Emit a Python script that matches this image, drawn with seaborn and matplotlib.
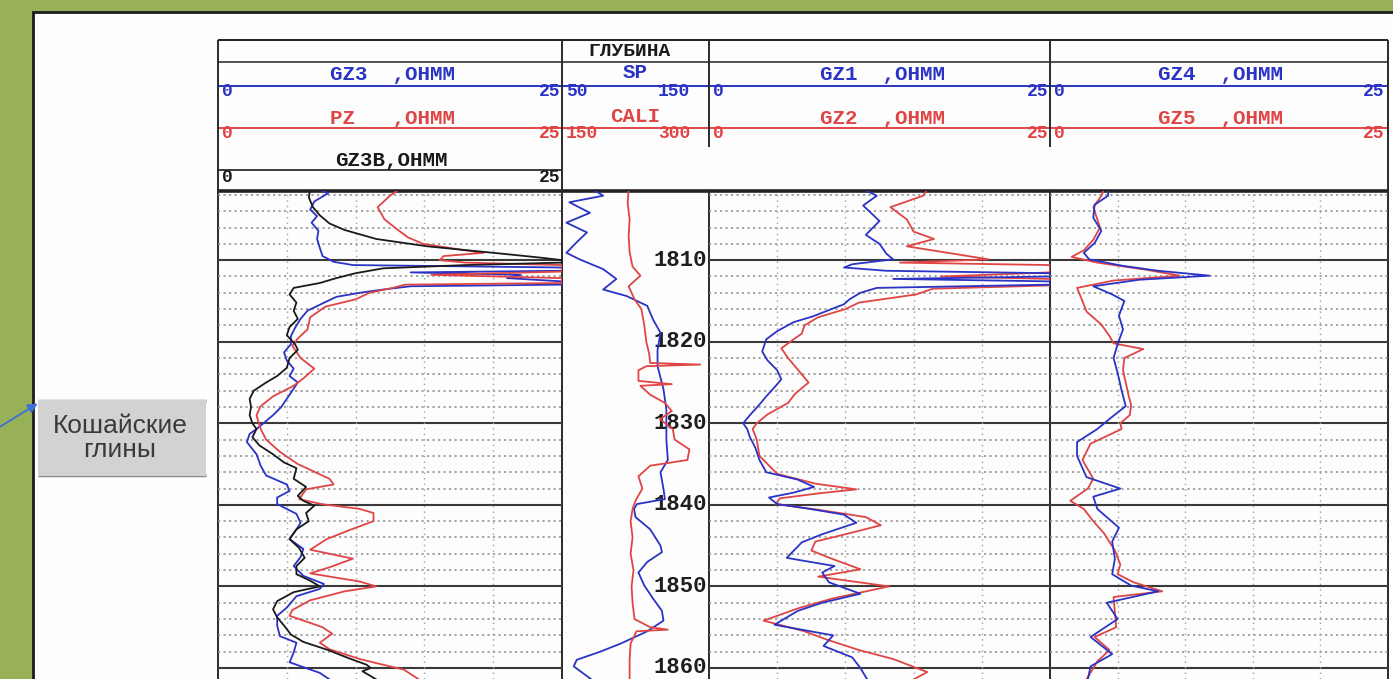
import seaborn as sns
import matplotlib.pyplot as plt
import pandas as pd
from matplotlib.patches import Rectangle

W, H = 1393, 679

# depth (m), value pairs
gz3 = [(1801.3, 7.3), (1801.8, 8.0), (1802.8, 7.0), (1803.8, 6.7), (1804.6, 7.2), (1805.4, 6.8), (1806.4, 7.3),
       (1807.4, 7.2), (1808.5, 7.4), (1809.5, 7.6), (1810.2, 8.4), (1810.6, 9.8), (1810.9, 25), (1811.3, 25),
       (1811.5, 14), (1811.8, 22), (1812.2, 21), (1812.6, 25), (1813.0, 25), (1813.2, 14), (1813.6, 12),
       (1814.0, 10.3), (1814.5, 8.6), (1815.3, 7.6), (1816.2, 6.5), (1817.2, 6.0), (1818.3, 5.6), (1819.3, 5.3),
       (1820.3, 5.3), (1821.3, 4.8), (1822.3, 5.0), (1823.3, 5.5), (1824.2, 5.2), (1825.0, 5.8), (1826.0, 5.4),
       (1827.0, 5.0), (1828.0, 4.6), (1829.0, 4.0), (1830.0, 3.3), (1830.7, 2.8), (1831.3, 2.3), (1832.3, 2.1),
       (1833.8, 2.8), (1835.2, 3.1), (1836.4, 3.5), (1837.5, 5.0), (1838.3, 5.2), (1839.1, 4.3), (1839.9, 4.3),
       (1841.1, 5.7), (1842.2, 6.0), (1843.0, 5.7), (1844.2, 5.2), (1845.4, 6.2), (1846.4, 6.0), (1847.5, 5.5),
       (1848.7, 6.2), (1849.7, 7.7), (1850.3, 7.4), (1851.2, 5.7), (1852.6, 5.0), (1853.6, 4.3), (1854.8, 4.3),
       (1856.1, 4.5), (1856.9, 5.7), (1858.1, 5.5), (1859.3, 5.2), (1860.6, 7.4), (1861.4, 8.1)]

gz3b = [(1801.3, 6.7), (1802.3, 6.6), (1803.5, 6.9), (1804.5, 7.4), (1805.5, 8.1), (1806.3, 9.2), (1807.4, 11.5),
        (1808.3, 15.2), (1808.9, 18.8), (1809.3, 21.2), (1809.7, 23.5), (1810.0, 25), (1810.3, 25), (1810.6, 18),
        (1811.0, 12), (1811.6, 10.0), (1812.2, 8.6), (1812.8, 7.4), (1813.4, 5.5), (1814.2, 5.2), (1815.2, 5.7),
        (1816.2, 5.5), (1817.2, 5.8), (1818.2, 5.2), (1819.2, 5.0), (1820.3, 5.6), (1821.0, 5.8), (1822.0, 5.2),
        (1823.2, 5.0), (1824.2, 4.3), (1825.0, 3.5), (1826.0, 2.6), (1827.0, 2.3), (1828.0, 2.4), (1829.0, 2.3),
        (1830.0, 2.5), (1830.7, 2.8), (1831.7, 2.5), (1832.7, 3.0), (1833.8, 4.0), (1834.8, 4.8), (1835.5, 5.7),
        (1836.8, 5.5), (1837.8, 6.4), (1838.9, 5.8), (1839.5, 6.2), (1840.1, 7.0), (1841.0, 6.4), (1842.0, 6.6),
        (1843.0, 5.7), (1844.2, 5.2), (1845.3, 5.9), (1846.5, 6.3), (1847.5, 5.7), (1848.5, 5.7), (1849.3, 6.7),
        (1850.0, 7.4), (1850.7, 5.5), (1851.8, 4.3), (1852.8, 4.0), (1853.8, 4.3), (1854.8, 4.8), (1855.9, 5.3),
        (1856.8, 6.2), (1857.8, 8.0), (1858.8, 9.5), (1859.6, 10.8), (1860.0, 11.1), (1860.4, 10.5), (1861.4, 11.5)]

pz = [(1801.3, 13.2), (1802.1, 12.5), (1803.5, 11.6), (1805.0, 12.1), (1806.2, 13.0), (1807.2, 13.8), (1808.0, 14.9),
      (1808.7, 17.6), (1809.1, 19.3), (1809.5, 16.4), (1810.0, 16.1), (1810.3, 18), (1810.6, 25), (1811.4, 25),
      (1811.8, 15.5), (1812.2, 25), (1812.8, 25), (1813.0, 13.6), (1813.4, 12.7), (1814.0, 11.0), (1814.8, 10.0),
      (1815.7, 7.8), (1817.0, 6.7), (1818.5, 6.5), (1819.6, 5.8), (1820.5, 5.4), (1822.0, 6.0), (1823.3, 7.0),
      (1824.5, 6.2), (1825.4, 5.5), (1826.7, 4.0), (1827.9, 3.1), (1829.0, 2.8), (1830.2, 3.0), (1830.7, 3.1),
      (1832.0, 3.5), (1833.5, 4.5), (1835.0, 5.8), (1836.8, 8.1), (1837.5, 8.4), (1838.1, 6.4), (1839.3, 5.9),
      (1839.9, 7.5), (1840.5, 10.3), (1841.0, 11.3), (1842.0, 11.3), (1843.0, 9.7), (1844.2, 7.9), (1845.5, 6.7),
      (1846.6, 9.8), (1847.6, 8.2), (1848.4, 6.7), (1849.4, 10.3), (1850.0, 11.5), (1850.6, 9.2), (1851.7, 6.7),
      (1852.9, 5.4), (1853.6, 5.2), (1855.0, 7.6), (1855.8, 8.3), (1856.9, 7.4), (1857.7, 8.1), (1858.9, 10.3),
      (1859.4, 11.5), (1860.2, 13.5), (1861.4, 14.6)]

sp = [(1801.3, 71), (1802.1, 78), (1802.9, 55), (1804.2, 69), (1805.4, 53), (1806.6, 67), (1807.8, 60), (1809.1, 53),
      (1809.9, 62), (1811.1, 78), (1812.3, 87), (1813.6, 78), (1814.4, 94), (1815.6, 108), (1817.3, 112),
      (1818.9, 117), (1821.0, 115), (1823.0, 115), (1825.8, 119), (1828.3, 121), (1830.7, 121), (1832.0, 121),
      (1834.5, 122), (1836.0, 117), (1838.0, 119), (1839.3, 120), (1839.9, 101), (1840.5, 99), (1841.5, 100),
      (1843.0, 110), (1845.0, 117), (1845.8, 118), (1847.0, 108), (1848.3, 102), (1849.9, 106), (1851.5, 112),
      (1853.0, 118), (1854.2, 119), (1855.5, 108), (1857.0, 90), (1858.0, 76), (1859.0, 60), (1859.8, 58),
      (1861.4, 70)]

cali = [(1801.3, 218), (1803.0, 217), (1805.0, 219), (1807.0, 218), (1809.0, 219), (1810.8, 222), (1811.9, 230),
        (1813.2, 218), (1814.8, 224), (1816.0, 231), (1818.0, 234), (1820.0, 236), (1821.5, 239), (1822.6, 240),
        (1822.8, 291), (1823.0, 236), (1823.5, 228), (1824.8, 228), (1825.2, 262), (1825.4, 230), (1826.5, 240),
        (1827.5, 255), (1828.5, 262), (1829.5, 250), (1830.7, 263), (1832.0, 265), (1833.2, 280), (1834.5, 278),
        (1835.2, 240), (1836.5, 228), (1838.0, 232), (1839.5, 225), (1840.5, 222), (1842.0, 220), (1844.0, 222),
        (1846.0, 220), (1848.0, 223), (1850.0, 221), (1852.0, 222), (1854.0, 224), (1855.0, 240), (1855.3, 258),
        (1855.5, 226), (1857.0, 220), (1859.0, 219), (1861.4, 219)]

gz1 = [(1801.3, 11.3), (1802.1, 12.3), (1803.3, 11.3), (1805.2, 12.5), (1806.9, 11.5), (1808.0, 12.5), (1809.2, 13.0),
       (1809.9, 13.5), (1810.5, 10.5), (1810.9, 9.9), (1811.3, 13.0), (1811.6, 25), (1812.0, 25), (1812.3, 13.5),
       (1812.6, 25), (1813.0, 25), (1813.4, 12.3), (1814.0, 11.1), (1814.8, 10.3), (1815.4, 9.9), (1816.9, 7.6),
       (1817.6, 6.2), (1818.7, 5.0), (1819.7, 4.2), (1821.2, 3.9), (1822.3, 4.3), (1823.5, 5.0), (1824.6, 5.3),
       (1825.4, 4.9), (1826.7, 4.2), (1827.7, 3.7), (1829.0, 3.0), (1830.0, 2.5), (1830.7, 2.8), (1831.7, 3.0),
       (1833.0, 3.4), (1834.5, 3.7), (1836.0, 4.2), (1836.9, 6.5), (1837.8, 7.7), (1838.5, 6.2), (1839.1, 4.4),
       (1839.9, 5.0), (1840.5, 7.4), (1841.2, 9.9), (1842.2, 10.8), (1843.6, 8.3), (1844.6, 6.8), (1846.5, 5.7),
       (1847.5, 9.2), (1848.3, 8.3), (1849.5, 8.8), (1850.9, 11.1), (1852.0, 8.3), (1853.0, 6.5), (1854.7, 4.8),
       (1856.0, 9.1), (1857.3, 8.4), (1858.7, 10.5), (1860.0, 11.1), (1861.4, 11.6)]

gz2 = [(1801.3, 16.0), (1802.1, 15.7), (1803.5, 13.3), (1805.0, 14.5), (1806.5, 15.0), (1807.4, 16.5), (1808.3, 14.5),
       (1809.5, 19.0), (1809.9, 20.5), (1810.3, 14.0), (1810.6, 25), (1811.5, 25), (1812.0, 17.0), (1812.3, 25),
       (1813.1, 25), (1813.5, 16.4), (1814.2, 15.2), (1815.2, 11.0), (1816.0, 10.0), (1817.0, 8.0), (1818.0, 7.0),
       (1819.0, 6.8), (1820.8, 5.3), (1822.0, 5.8), (1823.0, 6.3), (1824.0, 6.8), (1825.0, 7.3), (1826.4, 6.3),
       (1827.5, 5.8), (1828.9, 4.3), (1830.0, 3.5), (1830.7, 3.2), (1832.0, 3.5), (1834.0, 3.7), (1836.2, 5.0),
       (1837.4, 7.8), (1838.1, 10.8), (1838.6, 8.0), (1839.2, 5.2), (1839.9, 4.9), (1840.6, 8.0), (1841.5, 11.5),
       (1842.5, 12.6), (1843.6, 10.0), (1844.5, 7.8), (1845.6, 7.5), (1846.6, 9.0), (1847.9, 11.1), (1848.8, 8.0),
       (1850.0, 13.2), (1851.5, 9.0), (1852.7, 6.5), (1854.2, 4.0), (1855.5, 7.0), (1856.5, 8.6), (1857.8, 11.0),
       (1858.9, 13.5), (1860.5, 16.0), (1861.4, 15.0)]

gz4 = [(1801.3, 4.3), (1802.1, 4.3), (1803.2, 3.3), (1804.8, 3.2), (1806.4, 3.8), (1807.9, 3.3), (1809.1, 2.5),
       (1809.9, 2.9), (1810.7, 5.4), (1811.3, 8.0), (1811.9, 11.8), (1812.4, 6.6), (1813.2, 3.2), (1814.2, 4.6),
       (1815.0, 5.5), (1816.8, 5.1), (1818.5, 5.4), (1820.3, 5.0), (1822.0, 4.7), (1823.8, 5.0), (1826.0, 5.3),
       (1827.9, 5.6), (1829.2, 4.6), (1830.7, 3.5), (1832.3, 2.0), (1834.0, 2.0), (1836.6, 2.7), (1838.0, 5.2),
       (1839.0, 3.2), (1840.5, 3.5), (1842.8, 5.1), (1844.5, 4.6), (1846.6, 4.8), (1848.5, 4.6), (1849.9, 6.0),
       (1850.6, 8.0), (1852.0, 4.2), (1854.0, 5.0), (1856.2, 3.0), (1858.3, 4.6), (1859.8, 3.0), (1861.4, 2.8)]

gz5 = [(1801.3, 4.0), (1802.1, 3.8), (1803.5, 3.2), (1804.5, 3.4), (1806.0, 3.7), (1807.5, 3.2), (1808.8, 2.5),
       (1809.6, 1.6), (1810.3, 3.5), (1811.2, 7.2), (1811.9, 9.6), (1812.5, 4.7), (1813.4, 2.0), (1814.6, 2.3),
       (1816.3, 2.7), (1817.9, 3.8), (1819.3, 4.4), (1820.2, 4.7), (1820.9, 6.9), (1822.0, 5.5), (1823.5, 5.4),
       (1825.0, 5.6), (1826.5, 5.8), (1827.8, 6.0), (1829.0, 5.9), (1830.0, 5.2), (1830.7, 5.3), (1832.5, 3.0),
       (1834.5, 2.4), (1836.8, 3.2), (1838.0, 2.8), (1839.5, 1.5), (1840.5, 2.5), (1842.0, 3.2), (1843.5, 4.0),
       (1845.6, 4.8), (1847.3, 5.2), (1848.5, 5.0), (1849.5, 6.2), (1850.6, 8.3), (1851.3, 4.7), (1853.2, 4.8),
       (1855.0, 4.9), (1856.2, 3.3), (1857.8, 4.4), (1859.2, 3.5), (1861.4, 2.7)]

depth_labels = [1810, 1820, 1830, 1840, 1850, 1860]
depth_top, depth_bottom = 1801.52, 1861.35

BLUE = '#2b33c4'
RED = '#e04545'
BLACK = '#1a1a1a'
MONO = 'Liberation Mono'

sns.set_theme(style="white")
plt.rcParams['font.family'] = ['Liberation Mono', 'DejaVu Sans']

fig = plt.figure(figsize=(W / 100, H / 100), dpi=100)

# background axes in pixel units for the frame and the header
bg = fig.add_axes([0, 0, 1, 1])
bg.set_xlim(0, W)
bg.set_ylim(H, 0)
bg.set_axis_off()
bg.add_patch(Rectangle((-5, -5), W + 10, H + 10, fc='#98b159', ec='none', zorder=0))
bg.add_patch(Rectangle((33, 12), W, H, fc='#fdfdfd', ec='#1c1c1c', lw=2, zorder=0.5))


def hline(y, x0, x1, color='#222222', lw=1.4):
    bg.plot([x0, x1], [y, y], color=color, lw=lw, solid_capstyle='butt', zorder=2)


def vline(x, y0, y1, color='#2a2a2a', lw=1.4):
    bg.plot([x, x], [y0, y1], color=color, lw=lw, solid_capstyle='butt', zorder=2)


L, R = 218, 1388
hline(40, L, R)
hline(62, L, R, lw=1.1)
hline(86, L, R, color=BLUE, lw=1.4)
hline(128, L, R, color=RED, lw=1.4)
hline(170, L, 562, color=BLACK, lw=1.2)
hline(191, L, R, lw=2.6)
for x in (L, 562, R):
    vline(x, 40, H)
for x in (709, 1050):
    vline(x, 40, 147)
    vline(x, 191, H)

txt = dict(fontfamily=MONO, fontweight='bold', va='center', zorder=3)
bg.text(630, 51, 'ГЛУБИНА', color=BLACK, ha='center', fontsize=14, **txt)

tracks = [(218, 562), (709, 1050), (1050, 1386)]
names = [('GZ3  ,OHMM', 'PZ   ,OHMM'), ('GZ1  ,OHMM', 'GZ2  ,OHMM'), ('GZ4  ,OHMM', 'GZ5  ,OHMM')]
for (x0, x1), (n_blue, n_red) in zip(tracks, names):
    xc = (x0 + x1) / 2 + 3
    bg.text(xc, 75, n_blue, color=BLUE, ha='center', fontsize=15, **txt)
    bg.text(xc, 118, n_red, color=RED, ha='center', fontsize=15, **txt)
    for y, c in ((91, BLUE), (134, RED)):
        bg.text(x0 + 4, y, '0', color=c, ha='left', fontsize=13, **txt)
        bg.text(x1 - 2, y, '25', color=c, ha='right', fontsize=13, **txt)
bg.text(391, 161, 'GZ3B,OHMM', color=BLACK, ha='center', fontsize=15, **txt)
bg.text(222, 178, '0', color=BLACK, ha='left', fontsize=13, **txt)
bg.text(560, 178, '25', color=BLACK, ha='right', fontsize=13, **txt)

bg.text(635, 72, 'SP', color=BLUE, ha='center', fontsize=15, **txt)
bg.text(566, 92, '50', color=BLUE, ha='left', fontsize=13, **txt)
bg.text(690, 92, '150', color=BLUE, ha='right', fontsize=13, **txt)
bg.text(635, 117, 'CALI', color=RED, ha='center', fontsize=15, **txt)
bg.text(566, 134, '150', color=RED, ha='left', fontsize=13, **txt)
bg.text(690, 134, '300', color=RED, ha='right', fontsize=13, **txt)

# label box and arrow
bg.add_patch(Rectangle((38, 400), 168, 76, fc='#d2d2d2', ec='none', zorder=3))
hline(401, 38, 206, color='#8c8c8c', lw=2.5)
hline(475, 38, 206, color='#8c8c8c', lw=2.5)
bg.text(120, 438, 'Кошайские\nглины', ha='center', va='center', fontsize=19, color='#3a3a3a',
        fontfamily='Liberation Sans', linespacing=0.95, zorder=4)
bg.annotate('', xy=(40, 402), xytext=(-2, 428),
            arrowprops=dict(arrowstyle='-|>', color='#3d6fd6', lw=1.3, mutation_scale=14), zorder=5)


def frac(x0, x1, y0=191, y1=H):
    return [x0 / W, 1 - y1 / H, (x1 - x0) / W, (y1 - y0) / H]


def track_axes(x0, x1):
    ax = fig.add_axes(frac(x0, x1))
    ax.set_facecolor('none')
    for d in range(1802, 1862, 2):
        if d % 10 == 0:
            ax.axhline(d, color='#3a3a3a', lw=1.5, zorder=1)
        else:
            ax.axhline(d, color='#8a8a8a', lw=1.1, ls=(0, (1.4, 2.2)), zorder=1)
    for v in (5, 10, 15, 20):
        ax.axvline(v, color='#a0a0a0', lw=1.0, ls=(0, (1, 3)), zorder=1)
    return ax


def curve(ax, pairs, color, lw=1.3):
    df = pd.DataFrame(pairs, columns=['depth', 'value'])
    sns.lineplot(data=df, x='value', y='depth', ax=ax, color=color, lw=lw, orient='y',
                 sort=False, estimator=None, legend=False, zorder=3)


def finish(ax, lo, hi):
    ax.set_xlim(lo, hi)
    ax.set_ylim(depth_bottom, depth_top)
    ax.set_axis_off()


ax1 = track_axes(218, 562)
curve(ax1, gz3, BLUE)
curve(ax1, pz, RED)
curve(ax1, gz3b, BLACK)
finish(ax1, 0, 25)

ax3 = track_axes(709, 1050)
curve(ax3, gz2, RED)
curve(ax3, gz1, BLUE)
finish(ax3, 0, 25)

ax4 = track_axes(1050, 1388)
curve(ax4, gz5, RED)
curve(ax4, gz4, BLUE)
finish(ax4, 0, 25)

axd = fig.add_axes(frac(562, 709))
axd.set_facecolor('none')
for d in depth_labels:
    axd.text(0.985, d, str(d), transform=axd.get_yaxis_transform(), ha='right', va='center',
             fontsize=16, fontfamily=MONO, fontweight='bold', color='#1e1e1e', zorder=1)
curve(axd, sp, BLUE)
finish(axd, 50, 150)
axc = axd.twiny()
curve(axc, cali, RED)
finish(axc, 150, 300)

fig.savefig('out.png', dpi=100)
